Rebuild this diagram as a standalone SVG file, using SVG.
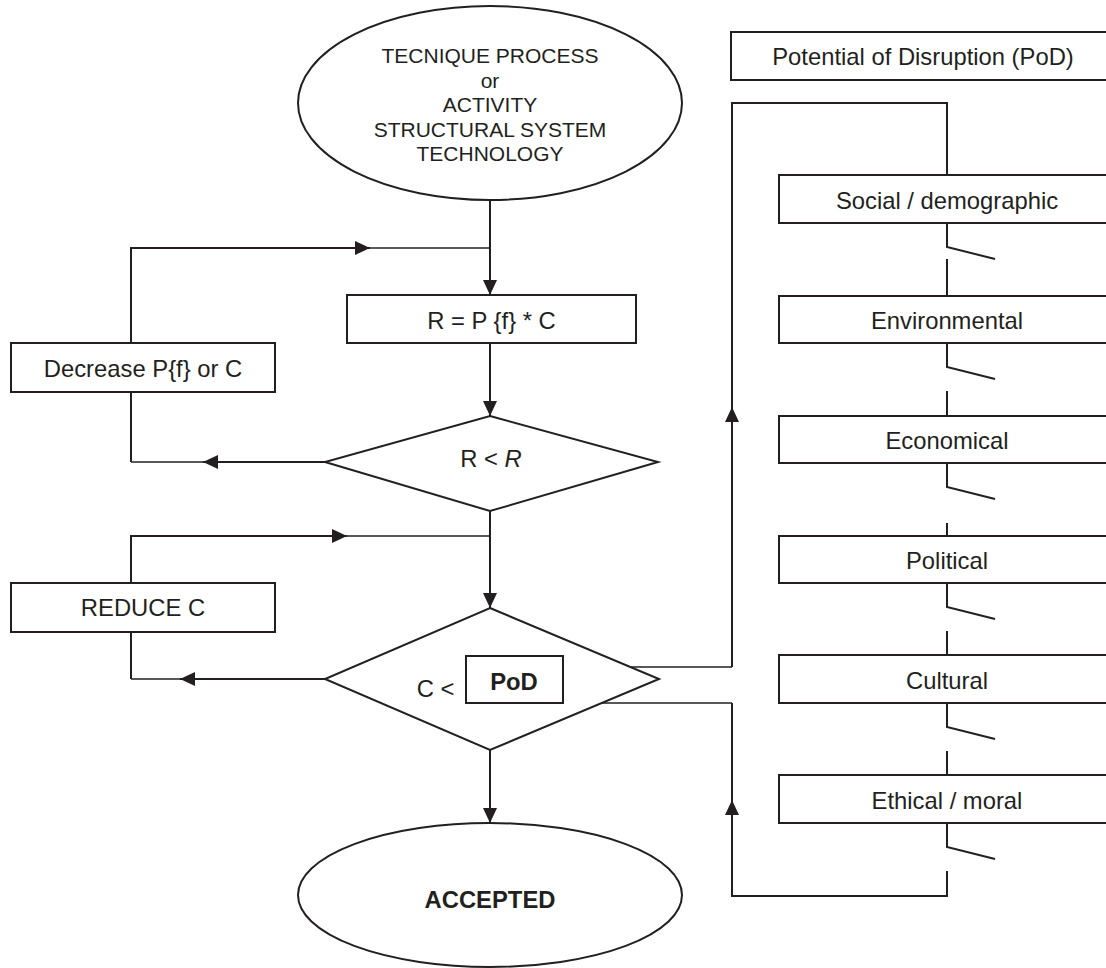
<svg xmlns="http://www.w3.org/2000/svg" width="1106" height="968" viewBox="0 0 1106 968">
  <style>
    .shape { fill: #ffffff; stroke: #231f20; stroke-width: 2; }
    .line { fill: none; stroke: #231f20; stroke-width: 2; }
    .thin { fill: none; stroke: #231f20; stroke-width: 1.5; }
    .txt { font-family: "Liberation Sans", Arial, sans-serif; font-size: 23.8px; fill: #231f20; text-anchor: middle; }
    .small { font-size: 21px; }
    .bold { font-weight: bold; }
  </style>
  <defs>
    <marker id="arrow" markerUnits="userSpaceOnUse" markerWidth="16" markerHeight="16" refX="15" refY="7" orient="auto">
      <path d="M0,0 L15,7 L0,14 z" fill="#231f20"/>
    </marker>
  </defs>
  <rect width="1106" height="968" fill="#ffffff"/>

  <!-- connectors -->
  <g id="connectors">
    <!-- main flow -->
    <path class="line" d="M490,200 V295" marker-end="url(#arrow)"/>
    <path class="line" d="M490,343 V416" marker-end="url(#arrow)"/>
    <path class="line" d="M490,511 V608" marker-end="url(#arrow)"/>
    <path class="line" d="M490,750 V823" marker-end="url(#arrow)"/>
    <!-- first loop -->
    <path class="line" d="M131,343 V248 H370" marker-end="url(#arrow)"/>
    <path class="thin" d="M370,248 H490"/>
    <path class="line" d="M325,462 H203" marker-end="url(#arrow)"/>
    <path class="thin" d="M203,462 H131"/>
    <path class="line" d="M131,462 V392"/>
    <!-- second loop -->
    <path class="line" d="M131,583 V536 H347" marker-end="url(#arrow)"/>
    <path class="thin" d="M347,536 H490"/>
    <path class="line" d="M325,679 H180" marker-end="url(#arrow)"/>
    <path class="thin" d="M180,679 H131"/>
    <path class="line" d="M131,679 V632"/>
    <!-- PoD chain -->
    <path class="thin" d="M563,667 H732"/>
    <path class="line" d="M732,667 V407" marker-end="url(#arrow)"/>
    <path class="line" d="M732,407 V103 H947 V175"/>
    <path class="line" d="M947,871 V896 H732 V800" marker-end="url(#arrow)"/>
    <path class="line" d="M732,800 V703"/>
    <path class="thin" d="M732,703 H563"/>
    <!-- switches between disruption factors -->
    <path class="line" d="M947,223 V247 L995,259 M947,259 V296"/>
    <path class="line" d="M947,343 V367 L995,379 M947,391 V416"/>
    <path class="line" d="M947,463 V487 L995,499 M947,523 V536"/>
    <path class="line" d="M947,583 V607 L995,619 M947,631 V655"/>
    <path class="line" d="M947,703 V727 L995,739 M947,751 V775"/>
    <path class="line" d="M947,823 V847 L995,859"/>
  </g>

  <g id="start">
    <ellipse class="shape" cx="490" cy="103" rx="192" ry="97"/>
    <text class="txt small" x="490" y="63">TECNIQUE PROCESS</text>
    <text class="txt small" x="490" y="87.5">or</text>
    <text class="txt small" x="490" y="112">ACTIVITY</text>
    <text class="txt small" x="490" y="136.5">STRUCTURAL SYSTEM</text>
    <text class="txt small" x="490" y="161">TECHNOLOGY</text>
  </g>

  <g id="risk">
    <rect class="shape" x="347" y="295" width="289" height="48"/>
    <text class="txt" x="491.5" y="329">R = P {f} * C</text>
  </g>

  <g id="decrease">
    <rect class="shape" x="11" y="343" width="264" height="49"/>
    <text class="txt" x="143" y="377">Decrease P{f} or C</text>
  </g>

  <g id="check-risk">
    <polygon class="shape" points="490,416 658,462 490,511 325,462"/>
    <text class="txt" x="491" y="467">R &lt; <tspan font-style="italic">R</tspan></text>
  </g>

  <g id="reduce">
    <rect class="shape" x="11" y="583" width="264" height="49"/>
    <text class="txt" x="143" y="616">REDUCE C</text>
  </g>

  <g id="check-pod">
    <polygon class="shape" points="490,608 659,679 490,750 325,679"/>
    <text class="txt" x="435.5" y="697">C &lt;</text>
    <rect class="shape" x="466" y="656" width="97" height="47"/>
    <text class="txt bold" x="514" y="690">PoD</text>
  </g>

  <g id="accepted">
    <ellipse class="shape" cx="490" cy="895" rx="192" ry="72"/>
    <text class="txt bold" x="490" y="908">ACCEPTED</text>
  </g>

  <g id="pod-title">
    <rect class="shape" x="731" y="32" width="384" height="48"/>
    <text class="txt" x="923" y="65">Potential of Disruption (PoD)</text>
  </g>

  <g id="social">
    <rect class="shape" x="779" y="175" width="336" height="48"/>
    <text class="txt" x="947" y="209">Social / demographic</text>
  </g>
  <g id="environmental">
    <rect class="shape" x="779" y="296" width="336" height="47"/>
    <text class="txt" x="947" y="329">Environmental</text>
  </g>
  <g id="economical">
    <rect class="shape" x="779" y="416" width="336" height="47"/>
    <text class="txt" x="947" y="449">Economical</text>
  </g>
  <g id="political">
    <rect class="shape" x="779" y="536" width="336" height="47"/>
    <text class="txt" x="947" y="569">Political</text>
  </g>
  <g id="cultural">
    <rect class="shape" x="779" y="655" width="336" height="48"/>
    <text class="txt" x="947" y="689">Cultural</text>
  </g>
  <g id="ethical">
    <rect class="shape" x="779" y="775" width="336" height="48"/>
    <text class="txt" x="947" y="809">Ethical / moral</text>
  </g>
</svg>
